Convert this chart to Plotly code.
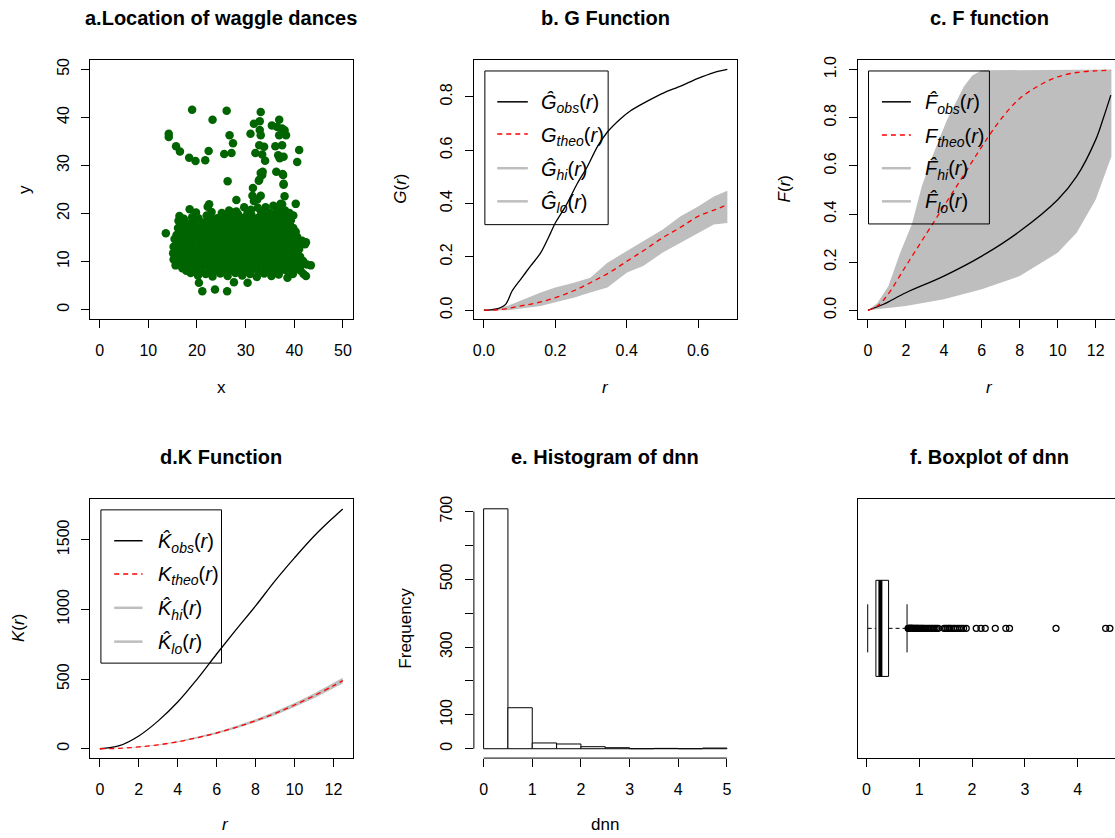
import plotly.graph_objects as go

W, H = 1115, 838
FONT = "Liberation Sans, Arial, Helvetica, sans-serif"
GREY = "#bebebe"
GREEN = "#006400"

# ---------------- data ----------------
# a. waggle dance locations (x, y)
dances_main = [
    (21.1, 3.8), (23.7, 4.2), (26.2, 3.8), (20.4, 5.6), (27.6, 5.7), (30.4, 5.6),
    (18.7, 7.6), (20.2, 7.1), (21.8, 7.4), (23.2, 6.9), (24.8, 7.5), (26.3, 7.0), (27.9, 7.6), (29.3, 7.1),
    (30.9, 7.4), (32.3, 6.8), (33.8, 7.5), (35.3, 7.0), (36.8, 7.3), (38.6, 6.6), (39.7, 7.4), (41.9, 7.4), (42.4, 7.0),
    (15.6, 9.2), (17.0, 8.6), (18.3, 9.0), (19.8, 8.5), (21.2, 9.1), (22.6, 8.7), (24.1, 9.2), (25.5, 8.6),
    (27.0, 9.0), (28.4, 8.5), (29.9, 9.1), (31.3, 8.7), (32.7, 9.3), (34.1, 8.6), (35.6, 9.0), (37.0, 8.5),
    (38.4, 9.1), (39.8, 8.7), (41.2, 9.0), (43.4, 9.2),
    (15.2, 10.4), (16.5, 10.0), (17.9, 10.6), (19.4, 10.1), (20.8, 10.5), (22.1, 9.9), (23.5, 10.7), (24.9, 10.2),
    (26.3, 10.6), (27.7, 10.0), (29.1, 10.5), (30.5, 10.1), (32.0, 10.8), (33.4, 10.2), (34.8, 10.6), (36.2, 9.9),
    (37.6, 10.5), (39.0, 10.2), (40.4, 10.7), (41.8, 10.1),
    (15.1, 11.7), (16.6, 11.3), (18.0, 11.9), (19.3, 11.4), (20.7, 11.8), (22.2, 11.2), (23.6, 11.9), (25.0, 11.5),
    (26.4, 12.0), (27.8, 11.3), (29.2, 11.8), (30.6, 11.4), (32.1, 12.0), (33.5, 11.3), (34.9, 11.8), (36.3, 11.5),
    (37.7, 12.1), (39.1, 11.4), (40.5, 11.8), (41.0, 12.6),
    (15.2, 13.1), (16.4, 12.6), (17.8, 13.2), (19.2, 12.7), (20.6, 13.3), (22.0, 12.8), (23.4, 13.4), (24.8, 12.6),
    (26.2, 13.1), (27.6, 12.7), (29.0, 13.4), (30.4, 12.9), (31.8, 13.3), (33.2, 12.6), (34.6, 13.2), (36.0, 12.8),
    (37.4, 13.4), (38.8, 12.9), (40.1, 13.2),
    (15.4, 14.7), (16.7, 14.1), (18.1, 14.6), (19.5, 14.0), (20.9, 14.8), (22.3, 14.2), (23.7, 14.7), (25.1, 14.0),
    (26.5, 14.5), (27.9, 14.1), (29.3, 14.8), (30.7, 14.3), (32.1, 14.6), (33.5, 14.0), (34.9, 14.5), (36.3, 14.2),
    (37.7, 14.8), (39.1, 14.1), (40.4, 14.6), (41.6, 14.3), (42.4, 14.0), (42.2, 13.6),
    (13.6, 15.9), (15.8, 15.5), (17.2, 16.0), (18.6, 15.3), (20.0, 15.9), (21.4, 15.2), (22.8, 15.8), (24.2, 15.4),
    (25.6, 16.0), (27.0, 15.3), (28.4, 15.9), (29.8, 15.5), (31.2, 16.1), (32.6, 15.4), (34.0, 15.8), (35.4, 15.2),
    (36.8, 15.9), (38.2, 15.4), (39.6, 15.8), (40.6, 15.1),
    (16.1, 17.0), (17.5, 16.5), (18.9, 17.2), (20.4, 17.2), (21.7, 16.6), (23.1, 17.3), (24.5, 16.7), (25.9, 17.1),
    (27.3, 16.5), (28.7, 17.2), (30.1, 16.8), (31.5, 17.4), (32.9, 16.6), (34.3, 17.1), (35.7, 16.5), (37.1, 17.2),
    (38.5, 16.7), (39.8, 17.0),
    (16.2, 18.5), (17.8, 18.0), (19.2, 18.6), (21.3, 18.1), (22.6, 18.7), (24.0, 18.0), (25.4, 18.5), (26.8, 17.9),
    (28.2, 18.6), (29.6, 18.1), (31.0, 18.7), (32.4, 18.0), (33.8, 18.4), (35.2, 17.8), (36.6, 18.5), (38.0, 18.1),
    (39.3, 18.6),
    (16.4, 19.5), (19.0, 19.2), (22.0, 19.6), (24.2, 19.0), (25.6, 19.8), (27.0, 19.3), (28.4, 19.9), (29.8, 19.2),
    (31.2, 19.7), (32.6, 19.1), (34.0, 19.8), (35.4, 19.3), (36.8, 19.9), (38.2, 19.4), (39.8, 19.6),
    (18.5, 20.9), (22.2, 21.4), (22.5, 21.9), (26.6, 20.6), (28.1, 20.4), (29.7, 21.3), (31.1, 20.8), (32.5, 21.2),
    (34.1, 21.3), (35.7, 21.6), (37.2, 21.0), (38.1, 20.6),
    (28.1, 22.8), (31.4, 23.7), (31.7, 22.6), (32.4, 22.9), (33.1, 23.7), (37.2, 22.0), (38.0, 23.6), (40.3, 22.0),
    (37.5, 21.9),
]
dances_core = [
    (17.8, 8.1), (19.3, 7.9), (20.9, 8.2), (22.4, 7.8), (23.9, 8.1), (25.3, 7.9), (26.8, 8.2), (28.2, 7.8),
    (29.7, 8.0), (31.1, 8.2), (32.6, 7.9), (34.0, 8.1), (35.5, 7.8), (36.9, 8.0), (38.3, 8.2), (39.8, 7.9), (41.3, 8.1),
    (16.2, 9.7), (17.7, 9.5), (19.1, 9.8), (20.6, 9.5), (21.9, 9.7), (23.4, 9.5), (24.8, 9.8), (26.2, 9.6),
    (27.6, 9.5), (29.0, 9.8), (30.4, 9.6), (31.9, 9.5), (33.3, 9.7), (34.7, 9.5), (36.1, 9.8), (37.5, 9.6),
    (38.9, 9.5), (40.3, 9.8), (41.6, 9.6), (42.6, 9.4),
    (15.9, 11.0), (17.3, 11.1), (18.7, 10.9), (20.1, 11.1), (21.5, 10.9), (22.9, 11.0), (24.3, 11.2), (25.7, 10.9),
    (27.1, 11.0), (28.5, 11.1), (29.9, 10.9), (31.3, 11.0), (32.8, 11.2), (34.2, 10.9), (35.6, 11.1), (37.0, 11.0),
    (38.4, 10.8), (39.8, 11.1), (41.2, 11.0),
    (15.8, 12.4), (17.1, 12.3), (18.6, 12.5), (20.0, 12.2), (21.4, 12.4), (22.8, 12.3), (24.1, 12.5), (25.5, 12.2),
    (26.9, 12.4), (28.3, 12.3), (29.7, 12.5), (31.1, 12.2), (32.5, 12.4), (33.9, 12.3), (35.3, 12.5), (36.7, 12.2),
    (38.1, 12.4), (39.5, 12.3), (40.8, 12.4),
    (15.8, 13.8), (17.1, 13.6), (18.5, 13.7), (19.9, 13.8), (21.3, 13.6), (22.7, 13.7), (24.1, 13.8), (25.5, 13.6),
    (26.9, 13.7), (28.3, 13.8), (29.7, 13.6), (31.1, 13.7), (32.5, 13.8), (33.9, 13.6), (35.3, 13.7), (36.7, 13.8),
    (38.1, 13.6), (39.5, 13.7), (40.9, 13.8),
    (16.4, 15.0), (17.8, 15.1), (19.2, 14.9), (20.6, 15.0), (22.1, 15.1), (23.4, 14.9), (24.8, 15.0), (26.2, 15.1),
    (27.6, 14.9), (29.0, 15.0), (30.4, 15.1), (31.8, 14.9), (33.2, 15.0), (34.6, 15.1), (36.0, 14.9), (37.4, 15.0),
    (38.8, 15.1), (40.1, 14.9),
    (16.5, 16.3), (17.9, 16.2), (19.3, 16.4), (20.7, 16.2), (22.1, 16.3), (23.5, 16.2), (24.9, 16.4), (26.3, 16.2),
    (27.7, 16.3), (29.1, 16.2), (30.5, 16.4), (31.9, 16.2), (33.3, 16.3), (34.7, 16.2), (36.1, 16.4), (37.5, 16.2),
    (38.9, 16.3), (40.3, 16.2),
    (16.8, 17.6), (18.2, 17.7), (19.7, 17.5), (21.0, 17.6), (22.4, 17.7), (23.8, 17.5), (25.2, 17.6), (26.6, 17.7),
    (28.0, 17.5), (29.4, 17.6), (30.8, 17.7), (32.2, 17.5), (33.6, 17.6), (35.0, 17.7), (36.4, 17.5), (37.8, 17.6),
    (39.1, 17.7),
    (17.3, 18.9), (20.3, 19.0), (23.3, 18.8), (24.7, 18.9), (26.1, 19.0), (27.5, 18.8), (28.9, 18.9), (30.3, 19.0),
    (31.7, 18.8), (33.1, 18.9), (34.5, 19.0), (35.9, 18.8), (37.3, 18.9), (38.7, 19.0),
    (19.8, 20.2), (23.0, 20.3), (25.1, 20.1), (27.3, 20.2), (30.4, 20.3), (33.2, 20.1), (34.8, 20.2), (36.3, 20.3),
    (39.0, 20.1),
]
dances_north = [
    (19.0, 41.6), (26.1, 41.4), (23.2, 39.5), (14.2, 36.6), (14.2, 35.9), (15.7, 34.0), (16.5, 32.9), (18.4, 31.6),
    (19.7, 30.9), (21.7, 31.1), (22.4, 33.0), (26.7, 36.3), (27.4, 34.6), (27.1, 32.6), (25.6, 32.4), (26.3, 26.7),
    (33.1, 41.1), (32.9, 39.2), (31.7, 38.7), (31.0, 36.6), (32.9, 37.4), (33.1, 36.3), (32.8, 34.2), (33.8, 33.9),
    (32.0, 32.6), (33.4, 32.3), (34.0, 31.0), (33.1, 28.4), (33.4, 28.0), (32.8, 27.0), (33.5, 28.7), (32.7, 26.8),
    (31.5, 25.3),
    (36.9, 39.5), (35.4, 38.3), (36.5, 38.0), (37.5, 37.7), (38.0, 37.3), (36.9, 36.3), (38.3, 36.3), (36.1, 34.0),
    (37.5, 34.2), (36.7, 32.1), (37.8, 31.8), (37.0, 31.5), (36.3, 28.7), (37.6, 28.2), (37.7, 28.0), (37.8, 26.2),
    (37.8, 26.0), (41.0, 33.2), (40.6, 30.7),
]

# b. G function
g_r = [0, 0.033, 0.061, 0.079, 0.103, 0.131, 0.159, 0.187, 0.2, 0.229, 0.262, 0.29, 0.318, 0.346,
       0.383, 0.411, 0.458, 0.504, 0.551, 0.598, 0.644, 0.682]
g_obs = [0, 0.004, 0.022, 0.072, 0.116, 0.166, 0.215, 0.29, 0.327, 0.39, 0.476, 0.539, 0.613, 0.668,
         0.718, 0.748, 0.784, 0.815, 0.840, 0.868, 0.891, 0.903]
g_r_theo = [0, 0.05, 0.103, 0.15, 0.2, 0.25, 0.298, 0.35, 0.401, 0.45, 0.5, 0.55, 0.6, 0.65, 0.682]
g_theo = [0, 0.003, 0.016, 0.028, 0.047, 0.072, 0.103, 0.14, 0.184, 0.226, 0.271, 0.31, 0.352, 0.378, 0.396]
g_r_env = [0, 0.066, 0.159, 0.2, 0.252, 0.298, 0.346, 0.401, 0.446, 0.5, 0.551, 0.6, 0.644, 0.682]
g_hi = [0, 0.016, 0.066, 0.085, 0.103, 0.122, 0.178, 0.221, 0.259, 0.302, 0.352, 0.389, 0.426, 0.448]
g_lo = [0, 0.0, 0.016, 0.03, 0.047, 0.066, 0.085, 0.141, 0.166, 0.215, 0.253, 0.290, 0.321, 0.327]

# c. F function
f_r = [0, 0.82, 2, 4, 6, 8, 10, 11, 12, 12.4, 12.8]
f_obs = [0, 0.025, 0.073, 0.142, 0.225, 0.328, 0.459, 0.556, 0.708, 0.797, 0.894]
f_r_theo = [0, 0.5, 1, 2, 3, 4, 5, 6, 6.97, 8, 9.05, 10, 11, 12, 12.8]
f_theo = [0, 0.018, 0.06, 0.184, 0.308, 0.432, 0.556, 0.68, 0.79, 0.88, 0.935, 0.97, 0.988, 0.995, 0.997]
f_r_hi = [0, 0.5, 1.08, 1.7, 2.32, 2.84, 3.46, 4.16, 5.04, 5.5, 6.0, 12.83]
f_hi = [0, 0.03, 0.101, 0.239, 0.359, 0.515, 0.652, 0.79, 0.928, 0.975, 0.997, 1.0]
f_r_lo = [0, 2, 4, 6, 8, 10, 11, 12, 12.83]
f_lo = [0, 0.018, 0.046, 0.087, 0.142, 0.239, 0.322, 0.459, 0.639]

# d. K function
k_r = [0, 1, 2, 3, 4, 5, 6, 7, 8, 9, 10, 11, 12, 12.48]
k_obs = [0, 22, 92, 200, 335, 500, 680, 855, 1025, 1205, 1370, 1525, 1660, 1721]
k_theo = [0, 3, 13, 28, 50, 79, 113, 154, 201, 254, 314, 380, 452, 489]
k_hi = [0, 4, 15, 31, 54, 85, 120, 163, 212, 267, 329, 397, 471, 510]
k_lo = [0, 2, 11, 25, 46, 73, 106, 145, 190, 241, 299, 363, 433, 468]

# e. histogram of nearest-neighbour distances (bin width 0.5)
dnn_bin_left = [0, 0.5, 1.0, 1.5, 2.0, 2.5, 3.0, 3.5, 4.0, 4.5]
dnn_counts = [708, 121, 17, 14, 6, 3, 0, 1, 0, 2]

# f. boxplot summary of dnn: lower whisker, Q1, median, Q3, upper whisker
dnn_stats = [0.025, 0.18, 0.265, 0.42, 0.77]
dnn_outliers = [0.79, 0.80, 0.81, 0.82, 0.83, 0.84, 0.85, 0.86, 0.87, 0.88, 0.90, 0.91, 0.93, 0.94, 0.96,
                0.97, 0.99, 1.01, 1.03, 1.05, 1.07, 1.09, 1.12, 1.15, 1.18, 1.21, 1.24, 1.27, 1.30, 1.33,
                1.36, 1.47, 1.50, 1.53, 1.56, 1.58, 1.61, 1.65, 1.68, 1.72, 1.76, 1.80, 1.84, 1.89,
                2.08, 2.17, 2.25, 2.44, 2.64, 2.71, 3.59, 4.53, 4.61]


# ---------------- layout helpers ----------------
def px(x):
    return x / W


def py(y):
    return 1 - y / H


COLS = [(89, 352), (473.3, 736.3), (857.5, 1115)]
ROWS = [(56, 316.7), (497, 757.7)]


def axis(**kw):
    d = dict(showgrid=False, zeroline=False, ticks="outside", ticklen=8, tickwidth=1,
             tickcolor="black", linecolor="black", linewidth=1, showline=True,
             tickfont=dict(family=FONT, size=16, color="black"), autorange=False)
    d.update(kw)
    return d


fig = go.Figure()
layout = dict(width=W, height=H, margin=dict(l=0, r=0, t=0, b=0), paper_bgcolor="white",
              plot_bgcolor="white", showlegend=False)

panel_specs = {
    1: dict(col=0, row=0, xr=[-2, 52], yr=[-2, 52], xt=[0, 10, 20, 30, 40, 50], yt=[0, 10, 20, 30, 40, 50]),
    2: dict(col=1, row=0, xr=[-0.028, 0.708], yr=[-0.0336, 0.939], xt=[0, 0.2, 0.4, 0.6],
            yt=[0, 0.2, 0.4, 0.6, 0.8], xfmt=".1f", yfmt=".1f"),
    3: dict(col=2, row=0, xr=[-0.537, 13.02], yr=[-0.037, 1.041], xt=[0, 2, 4, 6, 8, 10, 12],
            yt=[0, 0.2, 0.4, 0.6, 0.8, 1.0], yfmt=".1f", open_right=True),
    4: dict(col=0, row=1, xr=[-0.51, 12.99], yr=[-67, 1795], xt=[0, 2, 4, 6, 8, 10, 12],
            yt=[0, 500, 1000, 1500]),
    5: dict(col=1, row=1, xr=[-0.2, 5.2], yr=[-27.6, 738], xt=[0, 1, 2, 3, 4, 5],
            yt=[0, 100, 200, 300, 400, 500, 600, 700],
            ytext=["0", "100", "", "300", "", "500", "", "700"], nobox=True),
    6: dict(col=2, row=1, xr=[-0.164, 4.707], yr=[0.46, 1.54], xt=[0, 1, 2, 3, 4], yt=None,
            open_right=True),
}

for i, s in panel_specs.items():
    x0, x1 = COLS[s["col"]]
    y0, y1 = ROWS[s["row"]]
    xa = axis(domain=[px(x0), px(x1)], range=s["xr"], anchor=f"y{i}", tickvals=s["xt"],
              ticklabelstandoff=9, mirror=not s.get("nobox", False))
    if "xfmt" in s:
        xa["tickformat"] = s["xfmt"]
    ya = axis(domain=[py(y1), py(y0)], range=s["yr"], anchor=f"x{i}", tickangle=-90,
              ticklabelstandoff=6, mirror=not (s.get("nobox", False) or s.get("open_right", False)))
    if s["yt"] is None:
        ya.update(ticks="", showticklabels=False)
    else:
        ya["tickvals"] = s["yt"]
        if "ytext" in s:
            ya["ticktext"] = s["ytext"]
        if "yfmt" in s:
            ya["tickformat"] = s["yfmt"]
    if s.get("nobox"):
        xa["showline"] = False
        ya["showline"] = False
    key = "" if i == 1 else str(i)
    layout[f"xaxis{key}"] = xa
    layout[f"yaxis{key}"] = ya

# ---------------- a. scatter ----------------
pts = dances_main + dances_core + dances_north
fig.add_trace(go.Scatter(x=[p[0] for p in pts], y=[p[1] for p in pts], mode="markers",
                         marker=dict(color=GREEN, size=8.5, line=dict(width=0)),
                         xaxis="x", yaxis="y"))

# ---------------- b. G function ----------------
fig.add_trace(go.Scatter(x=g_r_env + g_r_env[::-1], y=g_hi + g_lo[::-1], fill="toself",
                         fillcolor=GREY, line=dict(width=0), mode="lines", xaxis="x2", yaxis="y2"))
fig.add_trace(go.Scatter(x=g_r, y=g_obs, mode="lines",
                         line=dict(color="black", width=1.3, shape="spline", smoothing=0.8),
                         xaxis="x2", yaxis="y2"))
fig.add_trace(go.Scatter(x=g_r_theo, y=g_theo, mode="lines",
                         line=dict(color="red", width=1.3, dash="5px,4px", shape="spline"),
                         xaxis="x2", yaxis="y2"))

# ---------------- c. F function ----------------
fig.add_trace(go.Scatter(x=f_r_hi + f_r_lo[::-1], y=f_hi + f_lo[::-1], fill="toself",
                         fillcolor=GREY, line=dict(width=0), mode="lines", xaxis="x3", yaxis="y3"))
fig.add_trace(go.Scatter(x=f_r, y=f_obs, mode="lines", line=dict(color="black", width=1.3, shape="spline"),
                         xaxis="x3", yaxis="y3"))
fig.add_trace(go.Scatter(x=f_r_theo, y=f_theo, mode="lines",
                         line=dict(color="red", width=1.3, dash="5px,4px", shape="spline"),
                         xaxis="x3", yaxis="y3"))

# ---------------- d. K function ----------------
fig.add_trace(go.Scatter(x=k_r + k_r[::-1], y=k_hi + k_lo[::-1], fill="toself",
                         fillcolor=GREY, line=dict(width=0), mode="lines", xaxis="x4", yaxis="y4"))
fig.add_trace(go.Scatter(x=k_r, y=k_obs, mode="lines", line=dict(color="black", width=1.3, shape="spline"),
                         xaxis="x4", yaxis="y4"))
fig.add_trace(go.Scatter(x=k_r, y=k_theo, mode="lines",
                         line=dict(color="red", width=1.3, dash="5px,4px", shape="spline"),
                         xaxis="x4", yaxis="y4"))

# ---------------- e. histogram ----------------
fig.add_trace(go.Bar(x=dnn_bin_left, y=dnn_counts, width=0.5, offset=0,
                     marker=dict(color="white", line=dict(color="black", width=1)),
                     xaxis="x5", yaxis="y5"))

# ---------------- f. boxplot ----------------
lw, q1, med, q3, uw = dnn_stats
fig.add_trace(go.Scatter(x=[q1, q3, q3, q1, q1], y=[0.8, 0.8, 1.2, 1.2, 0.8], mode="lines",
                         fill="toself", fillcolor="white", line=dict(color="black", width=1),
                         xaxis="x6", yaxis="y6"))
fig.add_trace(go.Scatter(x=[med, med], y=[0.8, 1.2], mode="lines", line=dict(color="black", width=4),
                         xaxis="x6", yaxis="y6"))
for a, b in [(lw, q1), (q3, uw)]:
    fig.add_trace(go.Scatter(x=[a, b], y=[1, 1], mode="lines",
                             line=dict(color="black", width=1, dash="4px,3px"), xaxis="x6", yaxis="y6"))
for w in [lw, uw]:
    fig.add_trace(go.Scatter(x=[w, w], y=[0.9, 1.1], mode="lines", line=dict(color="black", width=1),
                             xaxis="x6", yaxis="y6"))
fig.add_trace(go.Scatter(x=dnn_outliers, y=[1] * len(dnn_outliers), mode="markers",
                         marker=dict(symbol="circle-open", size=6, color="black", line=dict(width=1.3)),
                         xaxis="x6", yaxis="y6"))

# ---------------- annotations / decorations ----------------
ann = []
shapes = []


def text(x, y, s, size=17, bold=False, angle=0, xanchor="center"):
    ann.append(dict(x=px(x), y=py(y), xref="paper", yref="paper", text=f"<b>{s}</b>" if bold else s,
                    showarrow=False, textangle=angle, xanchor=xanchor, yanchor="middle",
                    font=dict(family=FONT, size=size, color="black")))


# panel titles
text(220.5, 14, "a.Location of waggle dances", 20, True)
text(605, 14, "b. G Function", 20, True)
text(989, 14, "c. F function", 20, True)
text(220.5, 455, "d.K Function", 20, True)
text(605, 455, "e. Histogram of dnn", 20, True)
text(989, 455, "f. Boxplot of dnn", 20, True)

# axis titles
text(220.5, 385, "x")
text(23, 186, "y", angle=-90)
text(605, 385, "<i>r</i>")
text(399, 186, "<i>G</i>(<i>r</i>)", angle=-90)
text(989, 385, "<i>r</i>")
text(784, 186, "<i>F</i>(<i>r</i>)", angle=-90)
text(225, 824, "<i>r</i>")
text(17, 627, "<i>K</i>(<i>r</i>)", angle=-90)
text(605, 824, "dnn")
text(404, 627, "Frequency", angle=-90)

# histogram axis lines spanning the labelled ticks only
shapes.append(dict(type="line", xref="x5", yref="paper", x0=0, x1=5, y0=py(757.7), y1=py(757.7),
                   line=dict(color="black", width=1)))
shapes.append(dict(type="line", xref="paper", yref="y5", x0=px(473.3), x1=px(473.3), y0=0, y1=700,
                   line=dict(color="black", width=1)))


def legend(box, lx0, lx1, tx, rows, sym):
    bx0, by0, bx1, by1 = box
    shapes.append(dict(type="rect", xref="paper", yref="paper", x0=px(bx0), x1=px(bx1), y0=py(by1),
                       y1=py(by0), line=dict(color="black", width=1), fillcolor="rgba(0,0,0,0)",
                       layer="above"))
    styles = [dict(color="black", width=1.5), dict(color="red", width=1.5, dash="5px,4px"),
              dict(color=GREY, width=2.5), dict(color=GREY, width=2.5)]
    labels = [f"<i>{sym[0]}<sub>obs</sub></i>(<i>r</i>)", f"<i>{sym[1]}<sub>theo</sub></i>(<i>r</i>)",
              f"<i>{sym[0]}<sub>hi</sub></i>(<i>r</i>)", f"<i>{sym[0]}<sub>lo</sub></i>(<i>r</i>)"]
    for ry, st, lab in zip(rows, styles, labels):
        shapes.append(dict(type="line", xref="paper", yref="paper", x0=px(lx0), x1=px(lx1),
                           y0=py(ry), y1=py(ry), line=st, layer="above"))
        text(tx, ry + 2, lab, 20, xanchor="left")


legend((484.3, 67.3, 607.7, 221.7), 496.7, 527.3, 538, [98.3, 130.7, 165, 198.3], ("\u011c", "G"))
legend((868.3, 67.3, 989.3, 221), 881.7, 910.7, 923, [98.3, 131.7, 165, 198.3], ("F\u0302", "F"))
legend((100, 508.3, 220.7, 662.3), 113.3, 141.7, 155, [539.3, 572.7, 606.7, 640.7], ("K\u0302", "K"))

layout["annotations"] = ann
layout["shapes"] = shapes
fig.update_layout(**layout)
fig.write_html("out.html")
